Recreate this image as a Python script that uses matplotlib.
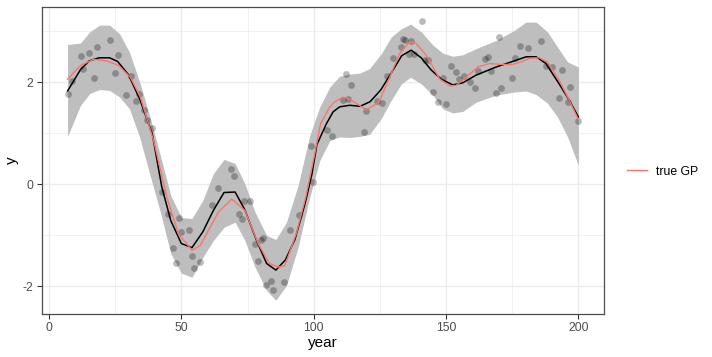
import numpy as np
import matplotlib
matplotlib.use("Agg")
import matplotlib.pyplot as plt

plt.rcParams['font.family'] = ['Liberation Sans', 'DejaVu Sans']
plt.rcParams['axes.unicode_minus'] = False

# observed data points
obs_year = [7.0, 8.7, 11.9, 13.0, 15.0, 17.0, 18.0, 22.9, 25.0, 25.9, 29.0, 31.0,
            33.0, 34.1, 36.0, 37.2, 39.0, 42.6, 44.9, 46.9, 48.0, 49.0, 50.0, 52.9,
            54.0, 54.9, 57.0, 61.7, 64.0, 68.9, 69.9, 71.9, 72.9, 73.8, 75.9, 77.9,
            78.9, 80.0, 80.9, 81.9, 83.8, 84.8, 88.9, 90.9, 94.6, 98.9, 99.9, 105.1,
            106.9, 111.0, 112.0, 113.0, 114.0, 118.9, 119.9, 123.9, 125.9, 127.8,
            129.9, 132.8, 133.7, 134.6, 135.9, 136.8, 137.7, 140.9, 141.9, 143.0,
            144.9, 146.9, 149.0, 149.9, 151.9, 153.8, 154.8, 156.8, 158.9, 160.9,
            162.0, 164.7, 165.9, 167.0, 168.9, 169.9, 170.9, 174.9, 175.9, 177.9,
            180.9, 185.8, 187.9, 190.0, 192.8, 193.9, 195.9, 196.9, 199.9]
obs_y = [1.77, 2.03, 2.51, 2.27, 2.58, 2.08, 2.69, 2.82, 2.18, 2.53, 1.75, 2.12,
         1.63, 1.77, 1.46, 1.26, 1.10, -0.14, -0.59, -1.24, -1.55, -0.66, -0.94, -0.90,
         -1.40, -1.63, -1.52, -0.41, -0.07, 0.31, 0.16, -0.59, -0.68, -0.32, -0.32, -1.17,
         -1.50, -1.09, -1.06, -1.97, -1.89, -2.06, -1.91, -0.90, -0.60, 0.75, 0.04, 1.06,
         0.95, 1.66, 2.16, 1.67, 1.95, 1.02, 1.43, 1.63, 1.59, 2.13,
         2.48, 2.70, 2.84, 2.82, 2.56, 2.81, 2.56, 3.20, 2.43, 2.43,
         1.81, 1.61, 2.08, 1.57, 2.32, 2.20, 2.07, 2.13, 2.01, 1.88,
         2.22, 2.45, 2.50, 2.22, 1.80, 2.88, 1.89, 2.09, 2.48, 2.71,
         2.67, 2.80, 2.31, 2.30, 1.69, 2.25, 1.61, 1.90, 1.24]

# posterior mean (black line)
fit_year = [7.0, 11.9, 15.2, 18.9, 22.9, 25.9, 30.0, 34.2, 39.0, 42.6, 46.0, 50.0,
            54.0, 58.1, 62.1, 66.1, 70.3, 74.0, 78.4, 82.2, 85.7, 89.3, 92.9, 96.7,
            99.3, 101.2, 104.8, 107.3, 109.8, 113.6, 117.5, 121.3, 125.3, 129.5,
            133.2, 136.8, 140.6, 144.4, 148.2, 152.5, 156.3, 161.3, 168.9, 175.8,
            180.2, 184.0, 187.7, 192.7, 196.5, 200.0]
fit_y = [1.83, 2.25, 2.42, 2.48, 2.48, 2.41, 2.15, 1.68, 0.99, -0.05, -0.71, -1.16,
         -1.24, -0.93, -0.51, -0.16, -0.15, -0.50, -1.10, -1.55, -1.68, -1.48, -1.08, -0.38,
         0.20, 0.78, 1.19, 1.42, 1.52, 1.55, 1.53, 1.62, 1.85, 2.20,
         2.52, 2.63, 2.48, 2.24, 2.06, 1.95, 1.99, 2.14, 2.30, 2.42,
         2.50, 2.50, 2.37, 1.97, 1.65, 1.32]

# true GP (red line)
true_year = [7.0, 11.9, 16.9, 21.9, 26.3, 30.7, 34.5, 39.5, 44.5, 48.9, 54.0, 57.1,
             64.0, 69.0, 74.0, 79.0, 83.2, 86.6, 89.1, 93.5, 97.0, 100.2, 102.6, 106.1,
             108.0, 111.1, 113.6, 119.9, 124.6, 128.7, 132.4, 136.2, 138.7, 142.5,
             147.5, 151.3, 153.8, 157.6, 162.0, 166.4, 170.8, 175.1, 178.3, 181.4,
             185.2, 188.3, 192.7, 196.5, 200.0]
true_y = [2.06, 2.33, 2.45, 2.42, 2.33, 2.10, 1.71, 0.86, -0.25, -0.97, -1.29, -1.20,
          -0.54, -0.29, -0.51, -1.16, -1.55, -1.62, -1.59, -0.95, -0.25, 0.55, 1.19, 1.52,
          1.62, 1.71, 1.67, 1.46, 1.61, 2.10, 2.56, 2.79, 2.76, 2.53,
          2.07, 1.93, 1.94, 2.10, 2.30, 2.37, 2.35, 2.35, 2.40, 2.47,
          2.48, 2.40, 2.04, 1.65, 1.27]

# credible band
band_year = [7.0, 11.9, 15.4, 19.1, 22.9, 26.7, 30.4, 34.2, 38.0, 42.2, 46.0, 50.0,
             54.0, 58.1, 62.1, 66.1, 70.3, 74.0, 77.8, 82.2, 85.7, 89.7, 94.1, 98.5,
             102.3, 106.1, 109.8, 113.6, 117.4, 121.1, 125.5, 129.3, 133.1, 136.6,
             140.6, 145.0, 148.8, 152.5, 156.3, 161.3, 168.9, 175.8, 180.2, 184.0,
             188.3, 192.1, 195.9, 200.0]
band_hi = [2.74, 2.77, 2.99, 3.12, 3.12, 2.95, 2.59, 2.01, 1.35, 0.54, -0.22, -0.65,
           -0.67, -0.31, 0.21, 0.49, 0.41, 0.01, -0.54, -1.00, -1.08, -0.74, -0.02, 0.96,
           1.52, 1.91, 2.12, 2.16, 2.18, 2.27, 2.56, 2.89, 3.05, 3.14,
           2.99, 2.73, 2.57, 2.51, 2.54, 2.66, 2.82, 3.02, 3.18, 3.18,
           2.99, 2.69, 2.40, 2.30]
band_lo = [0.94, 1.55, 1.78, 1.86, 1.84, 1.71, 1.48, 0.93, 0.21, -0.57, -1.36, -1.74,
           -1.82, -1.43, -1.10, -0.84, -0.74, -1.10, -1.62, -2.08, -2.27, -1.98, -1.23, -0.25,
           0.47, 0.86, 0.93, 0.92, 0.94, 0.98, 1.29, 1.65, 1.97, 2.10,
           1.97, 1.75, 1.48, 1.40, 1.43, 1.61, 1.75, 1.81, 1.83, 1.76,
           1.59, 1.32, 0.93, 0.37]

fig = plt.figure(figsize=(7.12, 3.57), dpi=100)
ax = fig.add_axes([42/712, 1-314/357, (604-42)/712, (314-7.3)/357])

ax.fill_between(band_year, band_lo, band_hi, color='#bebebe', lw=0, zorder=2)
ax.scatter(obs_year, obs_y, s=24, color='black', alpha=0.27, lw=0, zorder=3)
ax.plot(fit_year, fit_y, color='black', lw=1.1, zorder=4)
ax.plot(true_year, true_y, color='#F8766D', lw=1.0, zorder=5, label='true GP')

ax.set_xlim(-2.65, 209.65)
ax.set_ylim(-2.54, 3.47)
ax.set_xticks([0, 50, 100, 150, 200])
ax.set_xticks([25, 75, 125, 175], minor=True)
ax.set_yticks([-2, 0, 2])
ax.set_yticks([-1, 1, 3], minor=True)
ax.grid(which='major', color='#ebebeb', lw=1.0, zorder=0)
ax.grid(which='minor', color='#ebebeb', lw=0.5, zorder=0)
ax.set_axisbelow(True)
for s in ax.spines.values():
    s.set_color('#4d4d4d')
    s.set_linewidth(0.9)
ax.tick_params(which='major', length=3.5, width=0.8, color='#333333',
               labelsize=8.8, labelcolor='#4d4d4d', pad=2.5)
ax.tick_params(which='minor', length=0)
ax.set_xlabel('year', fontsize=11)
ax.set_ylabel('y', fontsize=11)
ax.xaxis.set_label_coords(0.5, -(336 - 314) / 306.7)
ax.yaxis.set_label_coords(-(42 - 19) / 562, 0.5)

fig.legend(loc='center left', bbox_to_anchor=(627/712, 1-171.7/357), frameon=False,
           fontsize=8.8, handlelength=1.6, handletextpad=0.8, borderpad=0, borderaxespad=0)

fig.savefig('out.png', dpi=100)
